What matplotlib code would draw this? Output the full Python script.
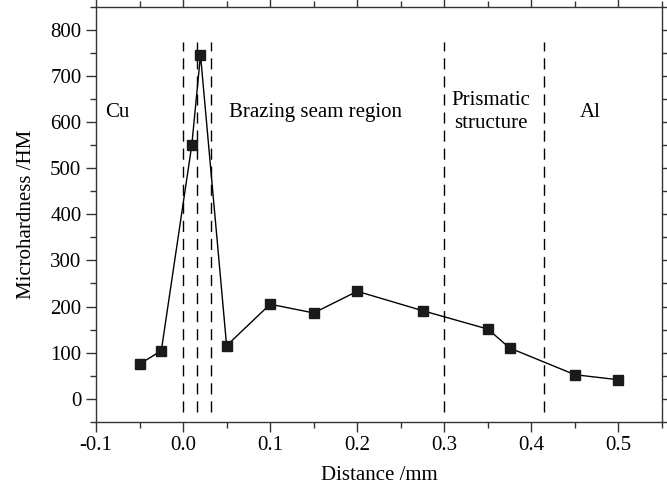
import matplotlib
matplotlib.use("Agg")
import matplotlib.pyplot as plt
from matplotlib.ticker import MultipleLocator

distance = [-0.05, -0.025, 0.01, 0.02, 0.05, 0.1, 0.15, 0.2, 0.275, 0.35, 0.375, 0.45, 0.5]
hardness = [75, 104, 550, 746, 115, 205, 186, 233, 191, 151, 110, 52, 41]
boundaries = [0.0, 0.0155, 0.0315, 0.3, 0.415]
region_labels = ["Cu", "Brazing seam region", "Prismatic\nstructure", "Al"]
region_label_x = [-0.09, 0.152, 0.353, 0.468]
region_label_y = [620, 620, 622, 620]
x_ticks = [-0.1, 0.0, 0.1, 0.2, 0.3, 0.4, 0.5]
x_tick_labels = ["-0.1", "0.0", "0.1", "0.2", "0.3", "0.4", "0.5"]
y_ticks = [0, 100, 200, 300, 400, 500, 600, 700, 800]

plt.rcParams['font.family'] = ['Liberation Serif', 'DejaVu Serif']
fs = 15

fig = plt.figure(figsize=(6.67, 4.86), dpi=100)
ax = fig.add_axes([96/667, (486-421.7)/486, (662-96)/667, (421.7-7)/486])

for b in boundaries:
    ax.plot([b, b], [-30, 775], color='black', lw=1.0, dashes=(8, 5))

ax.plot(distance, hardness, color='black', lw=1.0, marker='s', markersize=7,
        markerfacecolor='#1a1a1a', markeredgecolor='#1a1a1a', zorder=3)

for lbl, xx, yy in zip(region_labels, region_label_x, region_label_y):
    ha = 'left' if lbl == "Cu" else 'center'
    ax.text(xx, yy, lbl, ha=ha, va='center', fontsize=fs, linespacing=1.3)

ax.set_xlim(-0.1, 0.55)
ax.set_ylim(-50, 850)
ax.set_xticks(x_ticks)
ax.set_xticklabels(x_tick_labels)
ax.set_yticks(y_ticks)
ax.xaxis.set_minor_locator(MultipleLocator(0.05))
ax.yaxis.set_minor_locator(MultipleLocator(50))
ax.tick_params(which='both', direction='out', labelsize=fs, top=True, right=True,
               color='#333333')
ax.tick_params(which='major', length=7, width=1)
ax.tick_params(which='minor', length=4, width=1)
for s in ax.spines.values():
    s.set_color('#333333')
    s.set_linewidth(1.0)

ax.set_xlabel("Distance /mm", fontsize=fs, labelpad=8)
ax.set_ylabel("Microhardness /HM", fontsize=fs, labelpad=10)

fig.savefig("out.png", dpi=100)
